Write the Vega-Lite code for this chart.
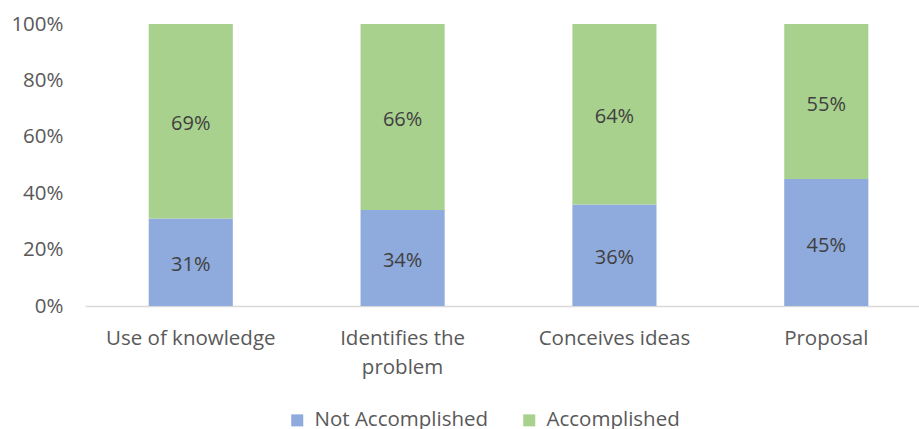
{
  "$schema": "https://vega.github.io/schema/vega-lite/v6.json",
  "width": 834,
  "height": 282,
  "autosize": {"type": "none"},
  "padding": {"left": 85, "top": 24, "right": 0, "bottom": 123},
  "background": "white",
  "config": {
    "view": {"stroke": null},
    "font": "Open Sans",
    "text": {"font": "Open Sans"}
  },
  "data": {
    "values": [
      {"category": "Use of knowledge", "status": "Not Accomplished", "value": 31},
      {"category": "Use of knowledge", "status": "Accomplished", "value": 69},
      {"category": "Identifies the problem", "status": "Not Accomplished", "value": 34},
      {"category": "Identifies the problem", "status": "Accomplished", "value": 66},
      {"category": "Conceives ideas", "status": "Not Accomplished", "value": 36},
      {"category": "Conceives ideas", "status": "Accomplished", "value": 64},
      {"category": "Proposal", "status": "Not Accomplished", "value": 45},
      {"category": "Proposal", "status": "Accomplished", "value": 55}
    ]
  },
  "transform": [
    {"calculate": "datum.status == 'Not Accomplished' ? 0 : 1", "as": "ord"},
    {"stack": "value", "groupby": ["category"], "sort": [{"field": "ord", "order": "ascending"}], "as": ["v0", "v1"]},
    {"calculate": "(datum.v0 + datum.v1) / 2", "as": "mid"},
    {"calculate": "datum.value + '%'", "as": "label"}
  ],
  "encoding": {
    "x": {
      "field": "category",
      "type": "nominal",
      "sort": ["Use of knowledge", "Identifies the problem", "Conceives ideas", "Proposal"],
      "scale": {"paddingInner": 0.603, "paddingOuter": 0.27, "align": 0.557},
      "axis": {
        "title": null,
        "labelAngle": 0,
        "ticks": false,
        "domainColor": "#D9D9D9",
        "domainWidth": 1.3,
        "labelColor": "#595959",
        "labelFontSize": 20.5,
        "labelPadding": 22,
        "labelLineHeight": 29,
        "labelBaseline": "top",
        "labelLimit": 300,
        "labelExpr": "datum.label == 'Identifies the problem' ? ['Identifies the', 'problem'] : datum.label"
      }
    }
  },
  "layer": [
    {
      "mark": {"type": "bar"},
      "encoding": {
        "y": {
          "field": "v0",
          "type": "quantitative",
          "scale": {"domain": [0, 100]},
          "axis": {
            "title": null,
            "values": [0, 20, 40, 60, 80, 100],
            "labelExpr": "datum.value + '%'",
            "grid": false,
            "domain": false,
            "ticks": false,
            "labelColor": "#595959",
            "labelFontSize": 20.5,
            "labelPadding": 22
          }
        },
        "y2": {"field": "v1"},
        "color": {
          "field": "status",
          "type": "nominal",
          "scale": {"domain": ["Not Accomplished", "Accomplished"], "range": ["#8FAADC", "#A9D18E"]},
          "legend": {
            "title": null,
            "orient": "none",
            "direction": "horizontal",
            "legendX": 202,
            "legendY": 386,
            "symbolType": "square",
            "symbolSize": 144,
            "symbolStrokeWidth": 0,
            "symbolOpacity": 1,
            "labelFontSize": 20.5,
            "labelColor": "#595959",
            "labelOffset": 7,
            "labelLimit": 300,
            "columnPadding": 30
          }
        }
      }
    },
    {
      "mark": {"type": "text", "fontSize": 20, "color": "#404040", "baseline": "middle", "dy": 3},
      "encoding": {
        "y": {"field": "mid", "type": "quantitative"},
        "text": {"field": "label", "type": "nominal"},
        "detail": {"field": "status"}
      }
    }
  ]
}
